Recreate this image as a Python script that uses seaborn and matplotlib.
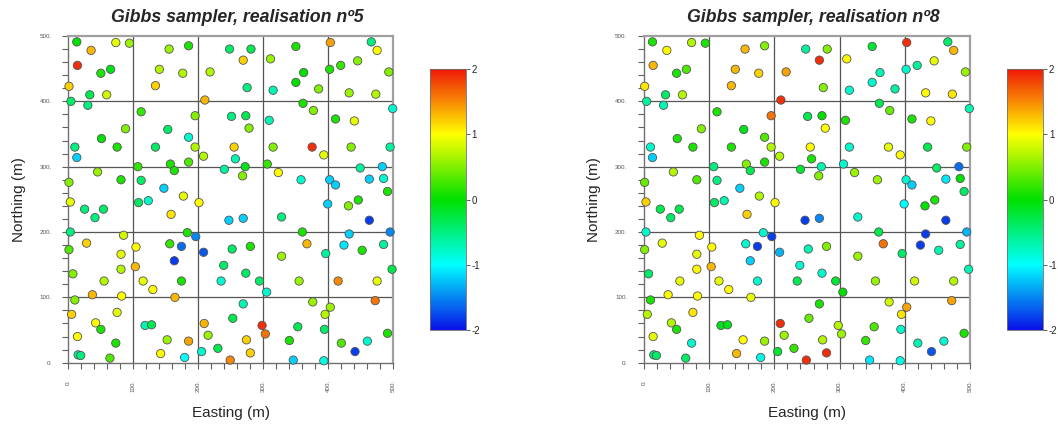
import numpy as np
import matplotlib
matplotlib.use("Agg")
import matplotlib.pyplot as plt
import seaborn as sns
from matplotlib.colors import LinearSegmentedColormap, Normalize
from matplotlib.cm import ScalarMappable
from matplotlib.ticker import MultipleLocator, FixedLocator

# ---- data: sample locations (shared) ----
east = [13, 73, 94, 35, 14, 50, 65, 1, 33, 59,
        4, 30, 134, 155, 185, 140, 176, 218, 210, 248,
        112, 195, 251, 88, 51, 153, 185, 10, 75, 134,
        195, 13, 208, 107, 157, 163, 185, 45, 1, 81,
        112, 147, 177, 240, 3, 108, 123, 201, 281, 269,
        311, 350, 403, 466, 475, 362, 402, 419, 445, 493,
        275, 315, 350, 385, 432, 473, 361, 377, 499, 273,
        278, 309, 411, 440, 255, 315, 375, 435, 495, 257,
        393, 272, 268, 306, 323, 358, 402, 411, 449, 483,
        463, 485, 491, 446, 399, 431, 25, 54, 41, 158,
        247, 3, 85, 183, 196, 28, 104, 156, 174, 208,
        1, 81, 163, 103, 81, 239, 7, 55, 115, 174,
        235, 130, 37, 82, 164, 10, 5, 75, 42, 50,
        118, 128, 209, 14, 215, 73, 152, 185, 230, 15,
        19, 64, 142, 205, 179, 249, 252, 269, 328, 463,
        360, 432, 495, 280, 367, 328, 396, 424, 452, 485,
        273, 294, 355, 415, 475, 498, 305, 269, 376, 403,
        395, 472, 253, 298, 303, 353, 394, 491, 274, 340,
        420, 460, 280, 441, 346, 393]
north = [491, 490, 489, 478, 455, 443, 449, 423, 410, 410,
         400, 394, 424, 480, 485, 449, 443, 445, 402, 480,
         384, 378, 377, 358, 343, 357, 345, 330, 330, 330,
         330, 314, 316, 300, 304, 294, 307, 292, 276, 280,
         279, 267, 255, 296, 246, 245, 248, 245, 480, 463,
         465, 484, 490, 491, 478, 444, 449, 455, 462, 445,
         421, 417, 429, 419, 413, 411, 397, 386, 389, 378,
         359, 371, 373, 370, 330, 330, 330, 330, 330, 312,
         318, 300, 286, 304, 291, 280, 280, 272, 298, 300,
         281, 282, 262, 249, 243, 240, 235, 235, 222, 227,
         218, 200, 195, 199, 193, 183, 177, 182, 178, 169,
         173, 166, 156, 147, 143, 149, 136, 125, 125, 125,
         125, 112, 104, 102, 100, 96, 74, 77, 61, 51,
         57, 58, 60, 40, 42, 30, 35, 33, 22, 12,
         11, 7, 14, 17, 8, 4, 174, 221, 223, 218,
         200, 197, 200, 178, 182, 163, 167, 180, 172, 181,
         137, 125, 125, 125, 125, 143, 108, 90, 93, 85,
         74, 95, 68, 57, 44, 55, 51, 45, 35, 34,
         30, 33, 15, 17, 4, 3]

# ---- simulated values, realisation 5 ----
value_r5 = [0.0, 0.9, 0.6, 1.3, 1.9, 0.1, -0.1, 1.2, -0.3, 0.8,
            -0.4, -0.5, 1.2, 0.6, 0.1, 0.7, 0.7, 0.7, 1.3, -0.4,
            0.2, 0.5, -0.5, 0.5, 0.0, -0.4, -0.8, -0.5, 0.1, -0.4,
            0.7, -1.2, 0.7, 0.2, 0.1, 0.1, 0.3, 0.6, 0.5, 0.1,
            -0.4, -1.2, 0.9, -0.6, 0.9, -0.4, -0.8, 1.0, -0.3, 1.2,
            0.6, 0.1, 1.4, -0.5, 1.0, 0.0, 0.1, 0.2, 0.5, 0.5,
            -0.5, -0.7, 0.0, 0.5, 0.6, 0.7, 0.1, 0.5, -0.8, -0.3,
            0.5, -0.7, 0.1, 0.9, 1.2, 0.5, 1.9, 0.5, -0.6, -0.7,
            0.9, -0.1, 0.5, 0.2, 1.0, -0.8, -1.2, -1.2, -0.6, -1.2,
            -1.2, -0.8, 0.1, 0.1, -1.2, 0.5, -0.5, -0.4, -0.5, 1.1,
            -1.2, -0.5, 0.8, 0.1, -1.5, 1.2, 1.0, 0.2, -1.6, -1.7,
            0.3, 0.9, -1.8, 1.3, 0.7, -0.4, 0.5, 0.7, 0.9, 0.1,
            -0.8, 1.0, 1.3, 1.0, 1.3, 0.5, 1.2, 0.9, 1.0, 0.1,
            -0.7, -0.3, 1.3, 1.0, 0.6, 0.1, 0.6, 1.4, -0.3, -0.6,
            -0.5, 0.3, 1.0, -0.8, -1.0, 1.5, -0.4, -1.2, -0.5, -1.8,
            0.1, -1.2, -1.5, 0.1, 1.3, 0.6, -0.6, -1.1, 0.1, -0.6,
            -0.4, -0.4, 0.6, 1.5, 0.9, -0.3, -0.8, -0.7, 0.6, 0.6,
            0.7, 1.6, -0.3, 1.9, 1.6, -0.3, -0.4, 0.1, 1.2, 0.1,
            0.3, -0.8, 1.2, -1.8, -1.2, -0.9]

# ---- simulated values, realisation 8 ----
value_r8 = [0.1, 0.7, 0.1, 1.0, 1.3, 0.1, 0.3, 1.1, -0.4, 0.7,
            -0.6, -0.7, 1.3, 1.3, 0.5, 1.3, 1.2, 1.4, 1.9, -0.6,
            0.1, 1.6, -0.3, 0.5, 0.1, -0.1, 0.3, -0.8, 0.1, 0.1,
            0.7, -1.2, 0.7, -0.5, 0.5, -0.3, 0.1, 0.7, 0.4, 0.3,
            -0.5, -1.2, 0.7, -0.2, 1.2, -0.4, -0.7, 1.0, 0.5, 1.9,
            1.0, -0.2, 1.9, -0.4, 1.3, -0.7, -0.8, -0.6, 0.9, 0.6,
            0.5, -0.8, -0.8, -0.6, 1.0, 1.1, -0.3, 0.4, -0.7, 0.0,
            1.0, 0.1, 0.1, 1.0, 1.0, -0.8, 0.9, -0.3, 0.5, 0.1,
            1.0, -0.7, 0.5, -0.8, 0.6, 0.6, -0.8, -1.2, -0.4, -1.6,
            -1.1, 0.0, -0.4, 0.1, -1.0, 0.0, -0.3, -0.3, -0.4, 1.2,
            -1.8, -0.8, 1.0, -0.8, -1.8, 0.9, 1.0, -0.8, -1.8, -1.3,
            0.5, 0.9, -1.2, 1.3, 1.0, -0.8, -0.4, 0.9, 0.9, -0.8,
            -0.3, 1.0, 1.0, 1.0, 0.9, 0.1, 0.7, 1.1, 0.7, 0.1,
            -0.1, -0.1, 1.9, 0.9, 0.6, -0.8, 1.0, 0.6, 0.2, -0.5,
            -0.4, -0.4, 1.3, -0.2, -0.9, 1.9, -0.7, -1.5, -0.8, -1.8,
            -0.3, -1.8, -1.3, 0.5, 1.6, 0.6, -0.4, -1.8, -0.7, -0.6,
            -0.8, -0.2, 0.6, 0.8, 0.7, -0.7, 0.0, 0.1, 0.8, 1.4,
            1.1, 1.4, 0.4, 0.7, 0.6, 0.3, -0.8, 0.1, 0.7, 0.2,
            -0.7, -0.8, 1.9, -1.7, -1.1, -0.9]

titles = ["Gibbs sampler, realisation nº5", "Gibbs sampler, realisation nº8"]
tick_vals = [0, 100, 200, 300, 400, 500]
tick_labels = ["0.", "100.", "200.", "300.", "400.", "500."]
cbar_ticks = [-2, -1, 0, 1, 2]

sns.set_style("white")
plt.rcParams['font.family'] = ['Liberation Sans', 'DejaVu Sans']

cmap = LinearSegmentedColormap.from_list(
    "gibbs", [(0.0, "#0a10e6"), (0.25, "#00ffff"), (0.5, "#00e000"),
              (0.75, "#ffff00"), (1.0, "#f01808")])
norm = Normalize(-2, 2)

fig = plt.figure(figsize=(10.58, 4.25), dpi=100)
axes_pos = [[0.0646, 0.1466, 0.3072, 0.7687], [0.6087, 0.1466, 0.3081, 0.7687]]
cbar_pos = [[0.4064, 0.2235, 0.034, 0.614], [0.9522, 0.2235, 0.034, 0.614]]

for k, vals in enumerate([value_r5, value_r8]):
    ax = fig.add_axes(axes_pos[k])
    sns.scatterplot(x=east, y=north, hue=vals, palette=cmap, hue_norm=norm,
                    s=36, edgecolor="#555555", linewidth=0.6, legend=False,
                    ax=ax, clip_on=False, zorder=3)
    ax.set_xlim(0, 500)
    ax.set_ylim(0, 500)
    ax.xaxis.set_major_locator(FixedLocator(tick_vals))
    ax.yaxis.set_major_locator(FixedLocator(tick_vals))
    ax.set_xticklabels(tick_labels, rotation=90, fontsize=4.5, color="#555555")
    ax.set_yticklabels(tick_labels, fontsize=4.5, color="#555555")
    ax.xaxis.set_minor_locator(MultipleLocator(20))
    ax.yaxis.set_minor_locator(MultipleLocator(20))
    ax.tick_params(which="both", direction="out", length=4, width=0.8,
                   color="#606060", bottom=True, left=True, pad=8)
    for v in [100, 200, 300, 400]:
        ax.axvline(v, color="#555555", lw=0.9, zorder=1)
        ax.axhline(v, color="#555555", lw=0.9, zorder=1)
    for side in ["left", "bottom"]:
        ax.spines[side].set_color("#707070")
        ax.spines[side].set_linewidth(1.0)
    for side in ["top", "right"]:
        ax.spines[side].set_color("#a0a0a0")
        ax.spines[side].set_linewidth(1.6)
    ax.set_title(titles[k], fontsize=12.8, fontweight="bold", style="italic",
                 pad=10, x=0.52)
    ax.set_xlabel("Easting (m)", fontsize=11, labelpad=10)
    ax.set_ylabel("Northing (m)", fontsize=11, labelpad=10)

    cax = fig.add_axes(cbar_pos[k])
    sm = ScalarMappable(norm=norm, cmap=cmap)
    cb = fig.colorbar(sm, cax=cax, ticks=cbar_ticks)
    cb.ax.set_yticklabels([str(t) for t in cbar_ticks])
    cb.ax.tick_params(labelsize=7, length=3, width=0.6, color="#444444", pad=1)
    cb.outline.set_edgecolor("#707070")
    cb.outline.set_linewidth(0.6)

fig.savefig("out.png", dpi=100)
